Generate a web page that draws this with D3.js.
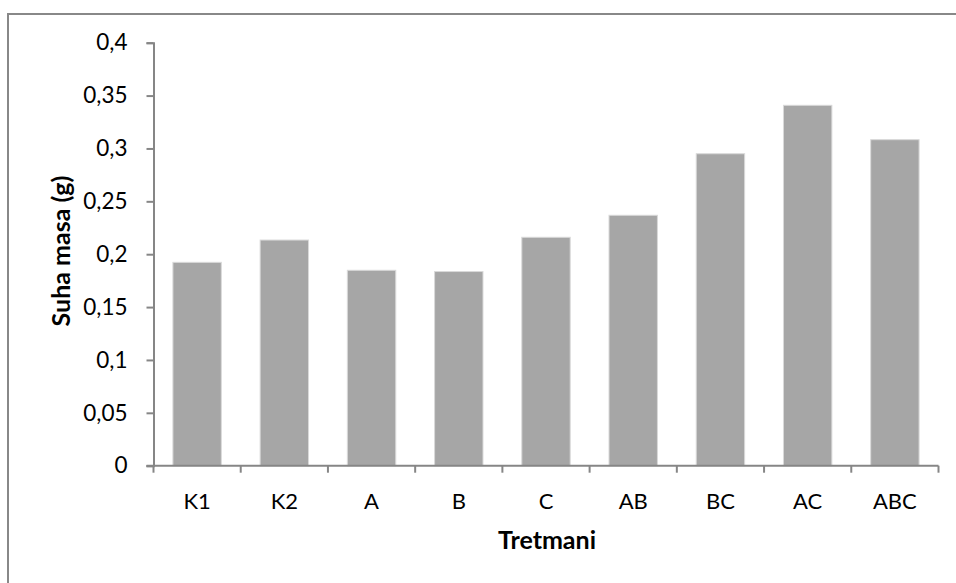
<!DOCTYPE html>
<html>
<head>
<meta charset="utf-8">
<script src="https://cdn.jsdelivr.net/npm/d3@7"></script>
<style>
  body { margin: 0; background: #fff; }
  svg text { font-family: Lato, "Open Sans", sans-serif; fill: #000; }
</style>
</head>
<body>
<script>
const categories = ["K1", "K2", "A", "B", "C", "AB", "BC", "AC", "ABC"];
const values = [0.1923, 0.2134, 0.1848, 0.1836, 0.216, 0.2368, 0.295, 0.3408, 0.3083];
const yTicks = [0, 0.05, 0.1, 0.15, 0.2, 0.25, 0.3, 0.35, 0.4];
const xTitle = "Tretmani";
const yTitle = "Suha masa (g)";

const W = 956, H = 583;
const plotL = 153.5, plotR = 938.5, plotT = 42.7, plotB = 465.7;

const svg = d3.select("body").append("svg")
    .attr("width", W)
    .attr("height", H);

// outer chart frame
svg.append("rect")
    .attr("x", 8).attr("y", 14)
    .attr("width", W + 10).attr("height", H)
    .attr("fill", "none")
    .attr("stroke", "#888")
    .attr("stroke-width", 2);

const x = d3.scaleBand()
    .domain(categories)
    .range([plotL, plotR])
    .paddingInner(0.445)
    .paddingOuter(0.2225);

const y = d3.scaleLinear()
    .domain([0, 0.4])
    .range([plotB, plotT]);

const fmt = d => String(d).replace(".", ",");

// y axis
const yAxis = svg.append("g")
    .attr("transform", `translate(${plotL},0)`)
    .call(d3.axisLeft(y).tickValues(yTicks).tickFormat(fmt).tickSize(7).tickPadding(19));
yAxis.select(".domain").attr("stroke", "#868686").attr("stroke-width", 2);
yAxis.selectAll(".tick line").attr("stroke", "#868686").attr("stroke-width", 2);
yAxis.selectAll("text").attr("font-size", 22.5).attr("fill", "#000");

// bars
svg.selectAll(".bar")
    .data(values)
    .enter()
    .append("rect")
    .attr("class", "bar")
    .attr("x", (d, i) => x(categories[i]))
    .attr("y", d => y(d))
    .attr("width", x.bandwidth())
    .attr("height", d => y(0) - y(d))
    .attr("fill", "#a6a6a6")
    .attr("stroke", "#d9d9d9")
    .attr("stroke-width", 1);

// x axis, ticks between categories
const xAxis = svg.append("g")
    .attr("transform", `translate(0,${plotB})`);
xAxis.append("line")
    .attr("x1", plotL - 7).attr("x2", plotR)
    .attr("stroke", "#868686").attr("stroke-width", 2);
xAxis.selectAll(".sep")
    .data(d3.range(categories.length + 1))
    .enter()
    .append("line")
    .attr("x1", i => plotL + i * x.step())
    .attr("x2", i => plotL + i * x.step())
    .attr("y1", 0).attr("y2", 7)
    .attr("stroke", "#868686").attr("stroke-width", 2);
xAxis.selectAll(".lbl")
    .data(categories)
    .enter()
    .append("text")
    .attr("x", d => x(d) + x.bandwidth() / 2)
    .attr("y", 43.5)
    .attr("text-anchor", "middle")
    .attr("font-size", 22)
    .text(d => d);

// titles
svg.append("text")
    .attr("x", 547).attr("y", 549)
    .attr("text-anchor", "middle")
    .attr("font-size", 25)
    .attr("font-weight", "bold")
    .text(xTitle);

svg.append("text")
    .attr("transform", "translate(70,251) rotate(-90)")
    .attr("text-anchor", "middle")
    .attr("font-size", 25)
    .attr("font-weight", "bold")
    .text(yTitle);
</script>
</body>
</html>
